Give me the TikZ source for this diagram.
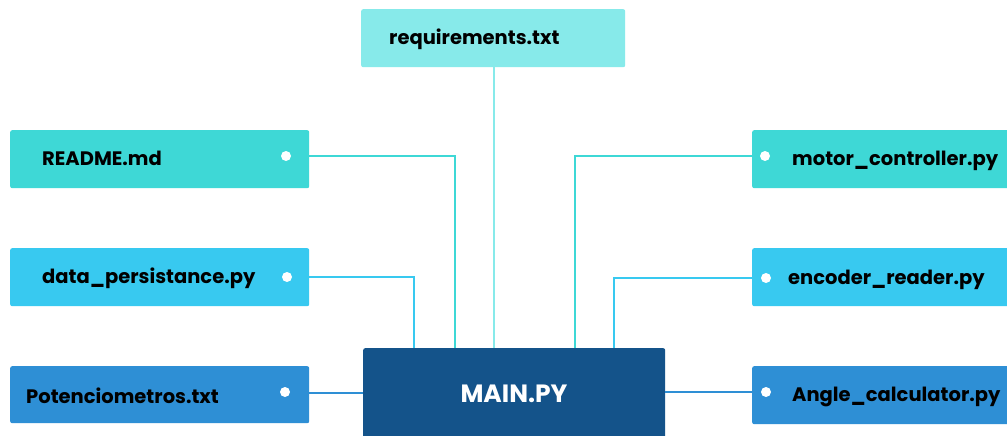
\documentclass[tikz,border=0pt]{standalone}
\usepackage{fontspec}
\setmainfont{Poppins}
\definecolor{reqcol}{HTML}{87EAEA}
\definecolor{turq}{HTML}{3ED8D6}
\definecolor{sky}{HTML}{38C9F0}
\definecolor{azure}{HTML}{2E8FD5}
\definecolor{navy}{HTML}{14538A}
\begin{document}
\begin{tikzpicture}[x=1pt, y=-1pt,
    filebox/.style = {rectangle, rounded corners=2pt, inner sep=0pt, anchor=north west, minimum width=299pt, minimum height=58pt},
    filename/.style = {anchor=base west, inner sep=0pt, font=\bfseries\fontsize{19.5}{22}\selectfont, text=black},
    dot/.style = {circle, fill=white, inner sep=0pt, minimum size=10pt},
    link/.style = {line width=2pt}]
    \useasboundingbox[fill=white] (0,0) rectangle (1007,436);
    % center box
    \node[filebox, fill=navy, minimum width=302pt, minimum height=100pt] (main) at (363,348) {};
    \node[anchor=base, inner sep=0pt, font=\bfseries\fontsize{25}{28}\selectfont, text=white] (mainname) at (514,402) {MAIN.PY};
    % top
    \node[filebox, fill=reqcol, minimum width=264pt] (req) at (361,9) {};
    \node[filename] (reqname) at (389,45) {requirements.txt};
    % left column
    \node[filebox, fill=turq] (readme) at (10,130) {};
    \node[filename] (readmename) at (42,165) {README.md};
    \node[dot] (readmedot) at (286,156) {};
    \node[filebox, fill=sky] (data) at (10,248) {};
    \node[filename] (dataname) at (42,283) {data\_persistance.py};
    \node[dot] (datadot) at (287,277) {};
    \node[filebox, fill=azure, minimum height=57pt] (poten) at (10,366) {};
    \node[filename] (potenname) at (26,403) {Potenciometros.txt};
    \node[dot] (potendot) at (285,392) {};
    % right column
    \node[filebox, fill=turq, minimum width=260pt] (motor) at (752,130) {};
    \node[filename] (motorname) at (792,165) {motor\_controller.py};
    \node[dot] (motordot) at (765,156) {};
    \node[filebox, fill=sky, minimum width=260pt] (encoder) at (752,248) {};
    \node[filename] (encodername) at (788,284) {encoder\_reader.py};
    \node[dot] (encoderdot) at (766,278) {};
    \node[filebox, fill=azure, minimum width=260pt] (angle) at (752,366) {};
    \node[filename] (anglename) at (792,401) {Angle\_calculator.py};
    \node[dot] (angledot) at (766,392) {};
    % docking points on main
    \coordinate (m1) at (414,348);
    \coordinate (m2) at (455,348);
    \coordinate (m3) at (494,348);
    \coordinate (m4) at (575,348);
    \coordinate (m5) at (614,348);
    % connectors
    \draw[link, reqcol] (req.south -| m3) -- (m3);
    \draw[link, turq] ([yshift=3pt]readme.east) -| (m2);
    \draw[link, sky] (data.east) -| (m1);
    \draw[link, azure] ([yshift=2pt]poten.east) -- ([yshift=2pt]poten.east -| main.west);
    \draw[link, turq] ([yshift=3pt]motor.west) -| (m4);
    \draw[link, sky] ([yshift=-1pt]encoder.west) -| (m5);
    \draw[link, azure] ([yshift=3pt]angle.west) -- ([yshift=3pt]angle.west -| main.east);
\end{tikzpicture}
\end{document}
